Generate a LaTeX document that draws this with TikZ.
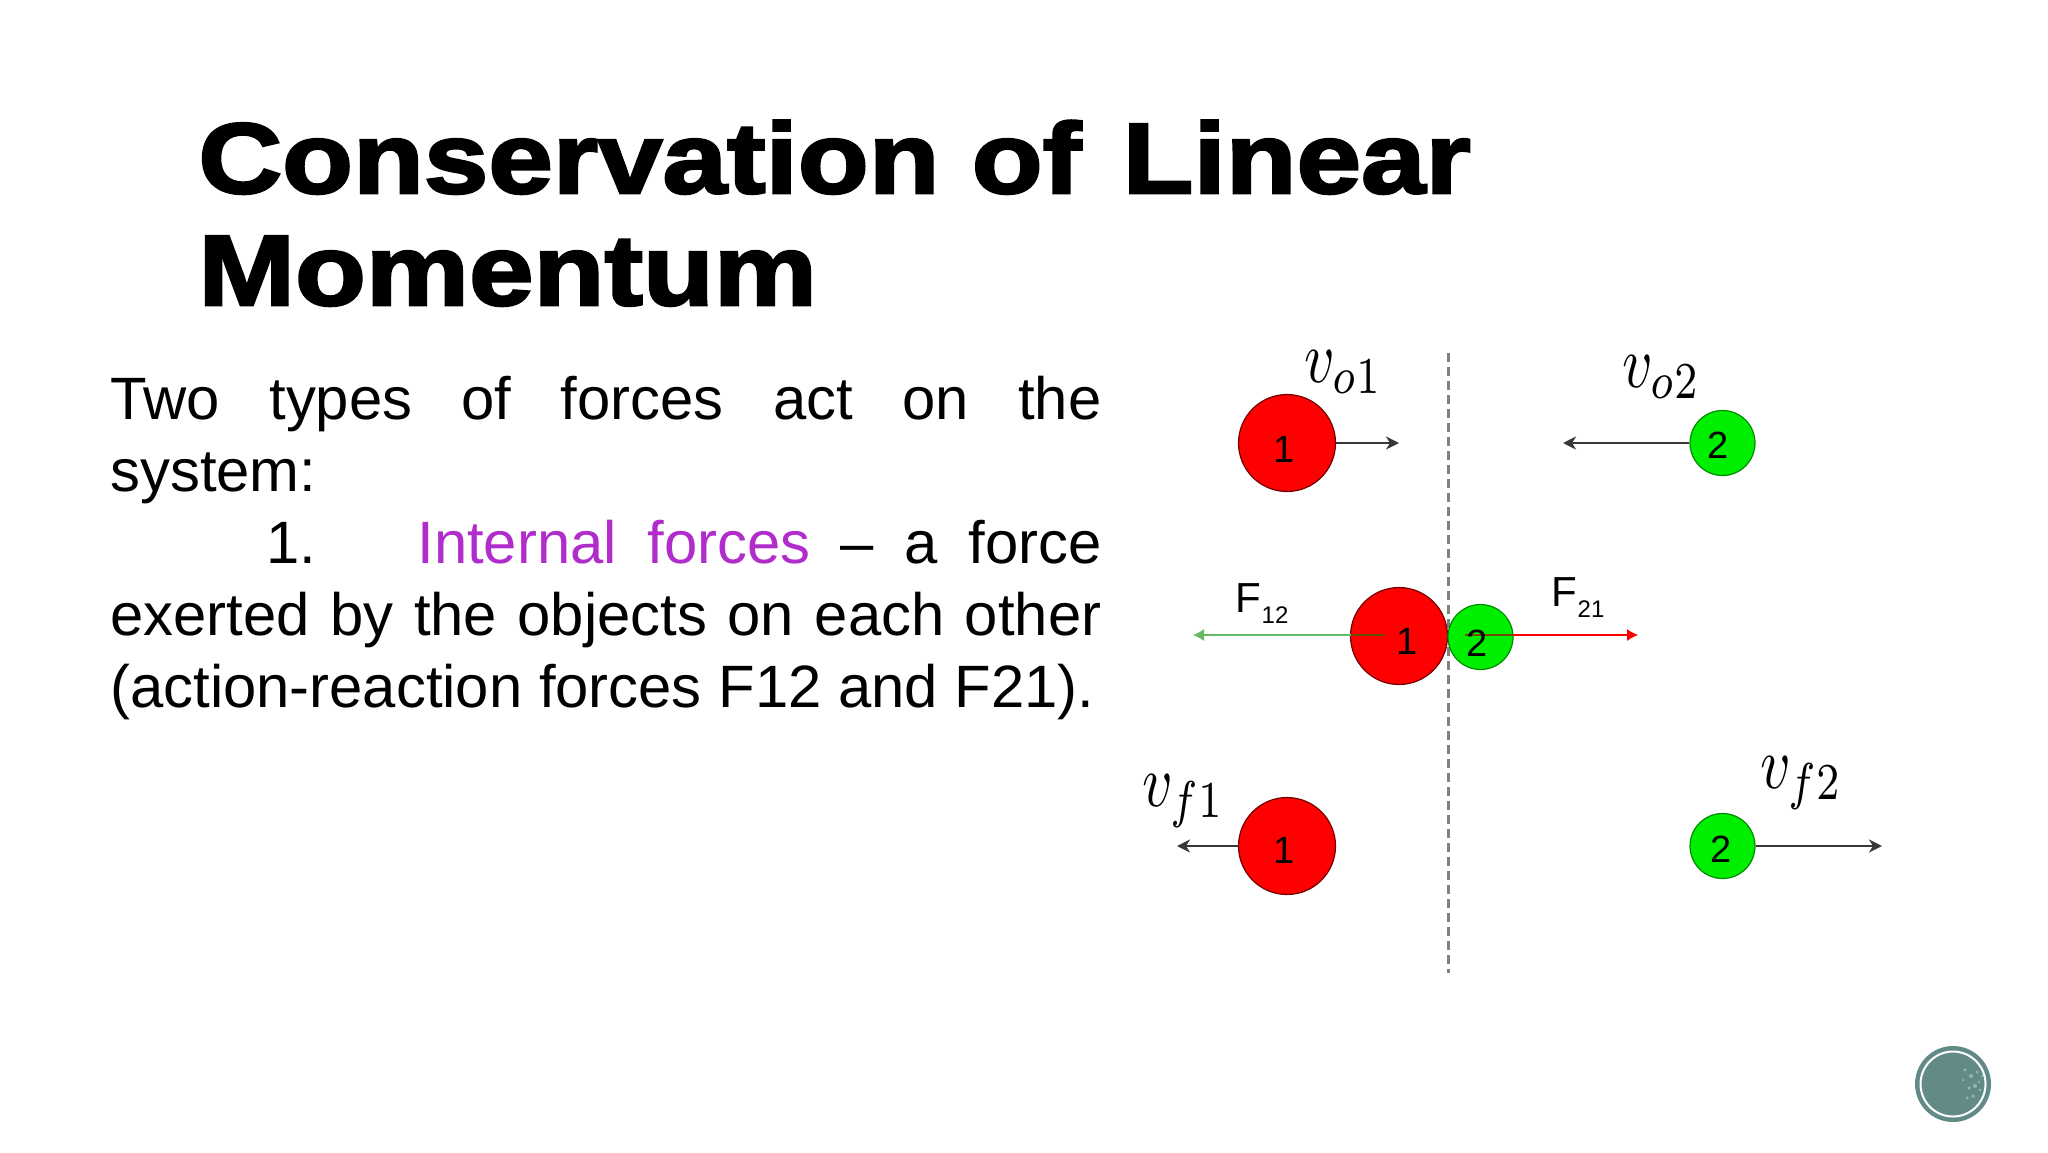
\documentclass[tikz,border=0pt]{standalone}
\usepackage{fontspec}
\setmainfont{Liberation Sans}
\newfontfamily\titlefont[FakeBold=2.6,FakeStretch=1.16]{Liberation Sans Bold}
\usetikzlibrary{arrows.meta}
\definecolor{ballred}{HTML}{FF0000}
\definecolor{ballgreen}{HTML}{00EE00}
\definecolor{purp}{HTML}{B02CCB}
\definecolor{logo}{HTML}{628B88}
\tikzset{
  ballr/.style={circle,draw=black!55!red,line width=.6pt,fill=ballred,inner sep=0pt,minimum size=48.5pt},
  ballg/.style={circle,draw=black!45!green,line width=.6pt,fill=ballgreen,inner sep=0pt,minimum size=32.5pt},
  digit/.style={inner sep=0pt,font=\fontsize{19}{19}\selectfont},
  vel/.style={-{Stealth[length=6.5pt,width=6.5pt,inset=2pt]},draw=black!78,line width=1.1pt},
  frc/.style={-{Latex[length=5.5pt,width=6pt]},line width=.6pt},
  vlabel/.style={inner sep=0pt,anchor=base west,xscale=2.95,yscale=3.7},
  flabel/.style={inner sep=0pt,anchor=base west,font=\fontsize{21}{21}\selectfont},
  divider/.style={draw=black!50,line width=1.6pt,dash pattern=on 4.5pt off 2.5pt},
}
\newcommand{\fsubs}[1]{\raisebox{-5.5pt}{\kern.3pt\fontsize{12}{12}\selectfont #1}}
\begin{document}
\begin{tikzpicture}[x=0.5pt,y=-0.5pt]
\useasboundingbox (0,0) rectangle (2048,1152);
% title
\node[inner sep=0pt,anchor=base west,align=left,font={\titlefont\fontsize{50}{56}\selectfont}] (title) at (198,305) {Conservation of\hspace{4.5pt} Linear\\Momentum};
% body
\node[inner sep=0pt,anchor=base west,align=left,font={\fontsize{29.9}{36}\selectfont}] (body) at (110,707) {%
\makebox[495.5pt][s]{Two types of forces act on the}\\
system:\\
\makebox[495.5pt][s]{\hspace*{78pt}\makebox[75.5pt][l]{1.}{\color{purp}Internal forces} – a force}\\
\makebox[495.5pt][s]{exerted by the objects on each other}\\
(action-reaction forces F12 and F21).};
% divider
\coordinate (dtop) at (1448.5,353);
\coordinate (dbot) at (1448.5,973);
\draw[divider] (dtop) -- (dbot);
% top row
\node[ballr] (r1) at (1287,443) {};
\node[ballg] (g1) at (1722.5,443) {};
\coordinate (a1) at (1399,443);
\coordinate (a2) at (1563,443);
\draw[vel] (r1.east) -- (a1);
\draw[vel] (g1.west) -- (a2);
\node[digit] (d1) at (1284,449) {1};
\node[digit] (d2) at (1718,445) {2};
\node[vlabel] (vo1) at (1303,382) {$v_{o1}$};
\node[vlabel] (vo2) at (1621,387) {$v_{o2}$};
% middle row
\node[ballr] (r2) at (1399,636) {};
\node[ballg] (g2) at (1480.5,637) {};
\coordinate (f1s) at (1385,635);
\coordinate (f1e) at (1193,635);
\coordinate (f2s) at (1465,635);
\coordinate (f2e) at (1638,635);
\coordinate (f1m) at (1351,635);
\coordinate (f2m) at (1513,635);
\draw[frc,draw=green!55!black!60!white,fill=green!55!black!60!white] (f1s) -- (f1e);
\draw[frc,draw=red,fill=red] (f2s) -- (f2e);
\draw[line width=.6pt,draw=black!50!green!60!red] (f1s) -- (f1m);
\draw[line width=.6pt,draw=black!40!red!70!green] (f2s) -- (f2m);
\node[digit] (d3) at (1407,641.5) {1};
\node[digit] (d4) at (1477,643.5) {2};
\node[flabel] (f12) at (1235,612) {F\fsubs{12}};
\node[flabel] (f21) at (1551,606) {F\fsubs{21}};
% bottom row
\node[ballr] (r3) at (1287,846) {};
\node[ballg] (g3) at (1722.5,846) {};
\coordinate (a3) at (1177,846);
\coordinate (a4) at (1882,846);
\draw[vel] (r3.west) -- (a3);
\draw[vel] (g3.east) -- (a4);
\node[digit] (d5) at (1284,850) {1};
\node[digit] (d6) at (1721,849) {2};
\node[vlabel] (vf1) at (1141,806) {$v_{f1}$};
\node[vlabel] (vf2) at (1759,788) {$v_{f2}$};
% logo
\fill[logo] (1953,1084) circle (38);
\draw[white,line width=1pt] (1953,1084) circle (32.5);
\foreach \dx/\dy/\r in {12/-14/1.6,18/-8/2,24/-12/1.5,16/4/1.8,22/2/2,27/6/1.4,14/14/1.5,20/12/1.8,26/-2/1.4,10/-4/1.2,29/-8/1.2}
  \fill[white,opacity=.35] (1953+\dx,1084+\dy) circle (\r);
\end{tikzpicture}
\end{document}
